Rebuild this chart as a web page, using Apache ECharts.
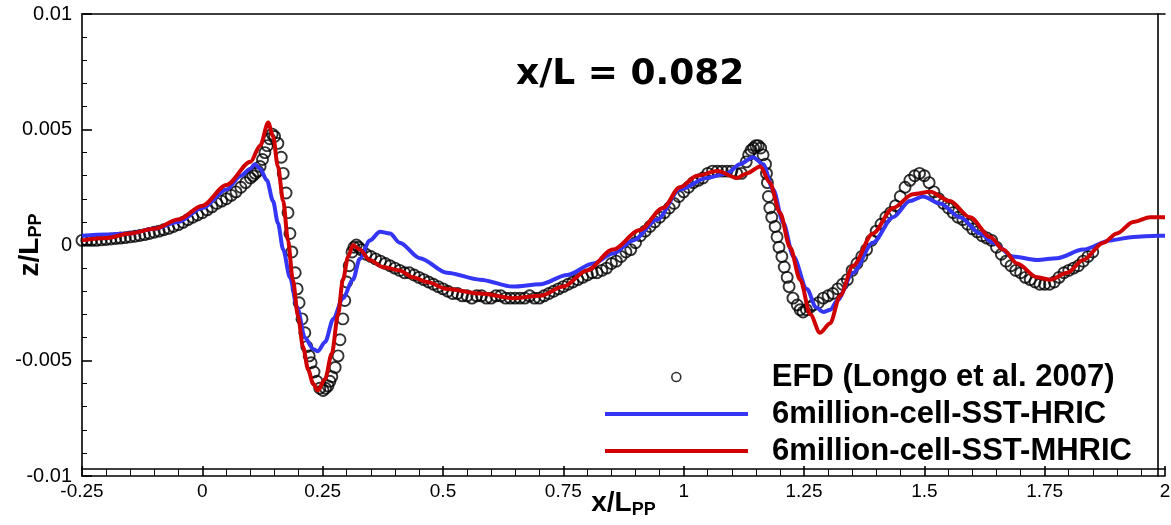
<!DOCTYPE html>
<html>
<head>
<meta charset="utf-8">
<script src="https://cdn.jsdelivr.net/npm/echarts@6/dist/echarts.min.js"></script>
<style>
html,body{margin:0;padding:0;background:#fff;}
#chart{width:1171px;height:525px;}
</style>
</head>
<body>
<div id="chart"></div>
<script>
// ---- data ----
const titleText = 'x/L = 0.082';
const seriesNames = ['EFD (Longo et al. 2007)', '6million-cell-SST-HRIC', '6million-cell-SST-MHRIC'];
const xTickLabels = ['-0.25', '0', '0.25', '0.5', '0.75', '1', '1.25', '1.5', '1.75', '2'];
const yTickLabels = ['-0.01', '-0.005', '0', '0.005', '0.01'];

const efdX = [-0.25,-0.24,-0.23,-0.22,-0.21,-0.20,-0.19,-0.18,-0.17,-0.16,-0.15,-0.14,-0.13,-0.12,-0.11,-0.10,-0.09,-0.08,-0.07,-0.06,-0.05,-0.04,-0.03,-0.02,-0.01,
  0.00,0.01,0.02,0.03,0.04,0.05,0.06,0.07,0.08,0.09,0.10,0.105,0.11,0.115,0.12,0.125,0.13,0.135,0.14,0.145,0.15,0.157,0.164,0.168,0.174,0.178,0.182,0.186,0.193,0.197,
  0.201,0.207,0.213,0.217,0.222,0.226,0.232,0.238,0.244,0.251,0.256,0.261,0.265,0.269,0.276,0.282,0.286,0.292,0.296,0.300,0.305,0.311,0.315,0.32,0.325,0.33,
  0.34,0.35,0.36,0.37,0.38,0.39,0.40,0.41,0.42,0.43,0.44,0.45,0.46,0.47,0.48,0.49,0.50,0.51,0.52,0.53,0.54,0.55,0.56,0.57,0.58,0.59,0.60,0.61,0.62,0.63,0.64,
  0.65,0.66,0.67,0.68,0.69,0.70,0.71,0.72,0.73,0.74,0.75,0.76,0.77,0.78,0.79,0.80,0.81,0.82,0.83,0.84,0.85,0.86,0.87,0.88,0.89,0.90,0.91,0.92,0.93,0.94,0.95,
  0.96,0.97,0.98,0.99,1.00,1.01,1.02,1.03,1.04,1.05,1.06,1.07,1.08,1.09,1.10,1.11,1.12,1.13,1.135,1.14,1.145,1.15,1.155,1.16,1.165,1.17,1.172,1.174,1.176,1.179,
  1.183,1.19,1.194,1.198,1.204,1.209,1.215,1.219,1.227,1.236,1.242,1.248,1.255,1.262,1.269,1.28,1.29,1.30,1.31,1.32,1.33,1.34,1.35,1.36,1.37,1.38,1.39,1.40,
  1.41,1.42,1.43,1.44,1.45,1.46,1.47,1.48,1.49,1.50,1.51,1.52,1.53,1.54,1.55,1.56,1.57,1.58,1.59,1.60,1.61,1.62,1.63,1.64,1.65,1.66,1.67,1.68,1.69,1.70,
  1.71,1.72,1.73,1.74,1.75,1.76,1.77,1.78,1.79,1.80,1.81,1.82,1.83,1.84,1.85];
const efdY = [0.0002,0.0002,0.0002,0.0002,0.00022,0.00024,0.00026,0.00028,0.0003,0.00032,0.00035,0.00038,0.00041,0.00045,0.0005,0.00055,0.0006,0.00066,0.00072,0.0008,0.00088,0.00098,0.0011,0.0012,0.0013,
  0.0014,0.00152,0.00165,0.0018,0.0019,0.0020,0.00215,0.0023,0.0025,0.0027,0.0029,0.0030,0.0031,0.0032,0.0034,0.0037,0.0040,0.0043,0.0046,0.0048,0.0047,0.0044,0.0038,0.0031,0.00225,0.0014,0.0005,-0.0003,-0.0012,-0.0019,
  -0.0025,-0.0032,-0.0038,-0.0044,-0.0048,-0.0051,-0.0055,-0.0059,-0.0062,-0.0063,-0.0062,-0.0061,-0.0059,-0.0057,-0.0053,-0.0048,-0.0041,-0.0032,-0.0024,-0.0016,-0.0009,-0.0003,-0.0001,0.0,-0.0001,-0.0002,
  -0.0004,-0.0005,-0.0006,-0.0007,-0.0008,-0.0009,-0.0010,-0.0011,-0.0012,-0.0012,-0.0013,-0.0014,-0.0015,-0.0016,-0.0017,-0.0018,-0.0019,-0.0020,-0.0021,-0.0021,-0.0022,-0.0022,-0.0023,-0.0022,-0.0022,-0.0023,-0.0023,-0.0022,-0.0022,-0.0023,-0.0023,
  -0.0023,-0.0023,-0.0023,-0.0022,-0.0023,-0.0023,-0.0022,-0.0021,-0.0020,-0.0019,-0.0018,-0.0017,-0.0016,-0.0015,-0.0014,-0.0013,-0.0012,-0.0012,-0.0011,-0.0010,-0.0008,-0.0007,-0.0005,-0.0003,-0.0002,0.0001,0.0004,0.0006,0.0008,0.0010,0.0012,
  0.0014,0.0016,0.0018,0.0021,0.0023,0.0025,0.0027,0.0028,0.0029,0.0031,0.0032,0.0032,0.0032,0.0032,0.0032,0.0031,0.0031,0.0036,0.0039,0.0041,0.0042,0.0043,0.0043,0.0042,0.0039,0.0035,0.0031,0.0027,0.0021,0.0016,
  0.0012,0.0008,0.00035,-0.0001,-0.0005,-0.00095,-0.0014,-0.0018,-0.0023,-0.0026,-0.0028,-0.0029,-0.0028,-0.0027,-0.0026,-0.0025,-0.0023,-0.0022,-0.0021,-0.0019,-0.0017,-0.0015,-0.0011,-0.0008,-0.0005,-0.0002,0.0002,0.0006,
  0.0009,0.0012,0.0014,0.0017,0.0021,0.0025,0.0028,0.0030,0.0031,0.0030,0.0027,0.0023,0.0020,0.0018,0.0016,0.0014,0.0012,0.0011,0.0009,0.0007,0.00057,0.0004,0.0003,0.0002,-0.0001,-0.0004,-0.0007,-0.0009,-0.0011,-0.0012,
  -0.0014,-0.0015,-0.0016,-0.0017,-0.0017,-0.0017,-0.0016,-0.0014,-0.0012,-0.0011,-0.0010,-0.0009,-0.0007,-0.0005,-0.0003];

const hricX = [-0.25,-0.2,-0.15,-0.1,-0.05,0,0.05,0.08,0.1,0.109,0.12,0.134,0.147,0.157,0.168,0.182,0.197,0.213,0.23,0.24,0.255,0.272,0.292,0.313,0.327,0.348,0.369,0.39,0.41,0.452,0.508,0.577,0.645,0.702,0.758,0.812,0.853,0.895,0.945,0.992,1.048,1.09,1.117,1.144,1.165,1.186,1.207,1.228,1.256,1.275,1.29,1.305,1.319,1.352,1.393,1.435,1.47,1.497,1.533,1.574,1.616,1.643,1.684,1.734,1.776,1.83,1.886,1.934,1.984,2.0];
const hricY = [0.0004,0.00045,0.0005,0.0007,0.001,0.0016,0.0024,0.003,0.0033,0.0035,0.0033,0.0028,0.0019,0.00095,-0.0002,-0.0014,-0.0027,-0.004,-0.0045,-0.0046,-0.0042,-0.0032,-0.0023,-0.0015,-0.0006,0.0002,0.00057,0.0005,0.0001,-0.00057,-0.0012,-0.0015,-0.0018,-0.0017,-0.0013,-0.0008,-0.00037,0.0002,0.0011,0.0024,0.0029,0.0031,0.0035,0.0038,0.0035,0.0024,0.00095,-0.0005,-0.0019,-0.0027,-0.0029,-0.0028,-0.0024,-0.0012,0.0001,0.0012,0.0019,0.0021,0.0018,0.0012,0.0005,0.0001,-0.0005,-0.00065,-0.00057,-0.0002,0.0002,0.00035,0.0004,0.0004];

const mhricX = [-0.25,-0.2,-0.15,-0.1,-0.05,0,0.05,0.1,0.12,0.137,0.147,0.157,0.168,0.178,0.188,0.199,0.209,0.22,0.23,0.24,0.255,0.269,0.282,0.292,0.303,0.313,0.327,0.348,0.375,0.41,0.438,0.467,0.508,0.577,0.645,0.702,0.75,0.799,0.853,0.909,0.957,0.992,1.028,1.07,1.111,1.131,1.159,1.179,1.2,1.221,1.242,1.263,1.283,1.304,1.325,1.352,1.393,1.435,1.476,1.512,1.553,1.595,1.637,1.664,1.693,1.734,1.761,1.797,1.83,1.872,1.9,1.934,1.969,2.0];
const mhricY = [0.0002,0.0003,0.0005,0.0007,0.0011,0.0017,0.0026,0.0036,0.0043,0.0053,0.0047,0.0034,0.0019,0.0002,-0.0015,-0.0031,-0.0044,-0.0054,-0.006,-0.0063,-0.0058,-0.0047,-0.003,-0.0015,-0.0005,0.0,-0.0002,-0.00065,-0.00095,-0.0011,-0.0014,-0.0016,-0.0019,-0.0021,-0.0023,-0.0022,-0.0018,-0.0011,-0.0002,0.00065,0.0016,0.0025,0.003,0.0032,0.0029,0.0031,0.0034,0.0027,0.0014,-0.0001,-0.0015,-0.003,-0.0038,-0.0034,-0.0022,-0.0009,0.0005,0.0016,0.0022,0.0023,0.0019,0.0012,0.00035,-0.0002,-0.0008,-0.0014,-0.0015,-0.0012,-0.00065,0.0001,0.0005,0.001,0.0012,0.0012];

// ---- build ----
const zip = (xs, ys) => xs.map((x, i) => [x, ys[i]]);
const xMin = -0.25, xMax = 2, xInt = 0.25;
const yMin = -0.01, yMax = 0.01, yInt = 0.005;
const lab = (arr, min, int) => v => { const i = Math.round((v - min) / int); return arr[i] !== undefined ? arr[i] : ''; };

const chart = echarts.init(document.getElementById('chart'), null, {renderer: 'canvas'});
const frameLine = {show: true, onZero: false, lineStyle: {color: '#000', width: 1.6}};
const blank = {type: 'value', min: 0, max: 1, axisLabel: {show: false}, axisTick: {show: false}, splitLine: {show: false}, minorTick: {show: false}, axisLine: frameLine};

const legendBase = {
  orient: 'horizontal', left: 605, itemGap: 0, selectedMode: false, padding: 0,
  itemWidth: 143,
  textStyle: {fontFamily: 'Liberation Sans, Arial, sans-serif', fontWeight: 'bold', fontSize: 31, color: '#000', padding: [0, 0, 0, 19], lineHeight: 34}
};

chart.setOption({
  animation: false,
  backgroundColor: '#fff',
  title: {
    text: titleText, left: 511, top: 52,
    textStyle: {fontFamily: 'DejaVu Sans, sans-serif', fontWeight: 'bold', fontSize: 36, color: '#000'}
  },
  legend: [
    Object.assign({}, legendBase, {data: [{name: seriesNames[0], icon: 'circle'}], left: 671, top: 360, itemHeight: 9,
      itemStyle: {color: 'rgba(255,255,255,0)', borderColor: '#000', borderWidth: 1.6}}),
    Object.assign({}, legendBase, {data: [{name: seriesNames[1], icon: 'rect'}], top: 397, itemHeight: 4}),
    Object.assign({}, legendBase, {data: [{name: seriesNames[2], icon: 'rect'}], top: 434, itemHeight: 4})
  ],
  grid: {left: 82, right: 6, top: 14, bottom: 49, containLabel: false, outerBoundsMode: 'none'},
  xAxis: [
    {
      type: 'value', min: xMin, max: xMax, interval: xInt, position: 'bottom',
      name: 'x/L{sub|PP}', nameLocation: 'middle', nameGap: 11, nameMoveOverlap: false,
      nameTextStyle: {fontFamily: 'Liberation Sans Narrow, Liberation Sans, Arial, sans-serif', fontWeight: 'bold', fontSize: 28, color: '#000', verticalAlign: 'top',
        rich: {sub: {fontFamily: 'Liberation Sans Narrow, Liberation Sans, Arial, sans-serif', fontWeight: 'bold', fontSize: 18, color: '#000', padding: [14, 0, 0, 0]}}},
      axisLine: frameLine,
      axisTick: {show: true, inside: true, length: 10, lineStyle: {color: '#000', width: 1.6}},
      minorTick: {show: true, splitNumber: 5, length: 7, lineStyle: {color: '#000', width: 1}},
      axisLabel: {formatter: lab(xTickLabels, xMin, xInt), margin: 6, fontFamily: 'Liberation Sans Narrow, Liberation Sans, Arial, sans-serif', fontSize: 19, color: '#000', showMinLabel: true, showMaxLabel: true},
      splitLine: {show: false}
    },
    Object.assign({}, blank, {position: 'top'}),
    Object.assign({}, blank, {position: 'bottom', offset: -7})
  ],
  yAxis: [
    {
      type: 'value', min: yMin, max: yMax, interval: yInt, position: 'left',
      name: 'z/L{sub|PP}', nameLocation: 'middle', nameGap: 37, nameRotate: 90, nameMoveOverlap: false,
      nameTextStyle: {fontFamily: 'Liberation Sans, Arial, sans-serif', fontWeight: 'bold', fontSize: 28, color: '#000',
        rich: {sub: {fontFamily: 'Liberation Sans, Arial, sans-serif', fontWeight: 'bold', fontSize: 18, color: '#000', padding: [12, 0, 0, 0]}}},
      axisLine: frameLine,
      axisTick: {show: true, inside: true, length: 10, lineStyle: {color: '#000', width: 1.6}},
      minorTick: {show: true, splitNumber: 5, length: 5, lineStyle: {color: '#000', width: 1}},
      axisLabel: {formatter: lab(yTickLabels, yMin, yInt), margin: 10, fontFamily: 'Liberation Sans, Arial, sans-serif', fontSize: 20, color: '#000', showMinLabel: true, showMaxLabel: true},
      splitLine: {show: false}
    },
    Object.assign({}, blank, {position: 'right', offset: -7})
  ],
  series: [
    {
      name: seriesNames[0], type: 'scatter', xAxisIndex: 0, yAxisIndex: 0,
      data: zip(efdX, efdY), symbol: 'circle', symbolSize: 11,
      itemStyle: {color: 'rgba(255,255,255,0)', borderColor: '#000', borderWidth: 1.9},
      emphasis: {disabled: true}, z: 2
    },
    {
      name: seriesNames[1], type: 'line', xAxisIndex: 0, yAxisIndex: 0,
      data: zip(hricX, hricY), symbol: 'none', smooth: 0.3, smoothMonotone: 'x',
      lineStyle: {color: '#3535f5', width: 4}, itemStyle: {color: '#3535f5'}, z: 3
    },
    {
      name: seriesNames[2], type: 'line', xAxisIndex: 0, yAxisIndex: 0,
      data: zip(mhricX, mhricY), symbol: 'none', smooth: 0.3, smoothMonotone: 'x',
      lineStyle: {color: '#d10000', width: 4}, itemStyle: {color: '#d10000'}, z: 4
    }
  ]
});
</script>
</body>
</html>
